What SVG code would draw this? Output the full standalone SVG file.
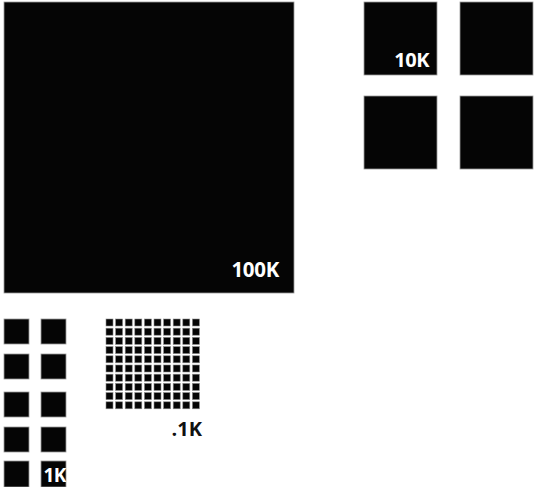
<svg xmlns="http://www.w3.org/2000/svg" width="534" height="487" viewBox="0 0 534 487">
  <style>
    .blk { fill: #050505; stroke: #9a9a9a; stroke-width: 0.8; }
    .cell { fill: #050505; stroke: #8a8a8a; stroke-width: 0.6; }
    .lbl { font-family: "Open Sans", "Liberation Sans", sans-serif; font-weight: bold; fill: #ffffff; }
    .lbl-dark { font-family: "Open Sans", "Liberation Sans", sans-serif; font-weight: bold; fill: #111111; }
  </style>
  <defs>
    <g id="row10">
      <rect class="cell" x="0" y="0" width="7" height="7"/>
      <rect class="cell" x="9.6" y="0" width="7" height="7"/>
      <rect class="cell" x="19.2" y="0" width="7" height="7"/>
      <rect class="cell" x="28.8" y="0" width="7" height="7"/>
      <rect class="cell" x="38.4" y="0" width="7" height="7"/>
      <rect class="cell" x="48" y="0" width="7" height="7"/>
      <rect class="cell" x="57.6" y="0" width="7" height="7"/>
      <rect class="cell" x="67.2" y="0" width="7" height="7"/>
      <rect class="cell" x="76.8" y="0" width="7" height="7"/>
      <rect class="cell" x="86.4" y="0" width="7" height="7"/>
    </g>
  </defs>

  <g id="block-100k">
    <rect class="blk" x="4" y="2" width="290" height="291"/>
    <text class="lbl" x="279" y="277" font-size="20.5" text-anchor="end" letter-spacing="-0.3">100K</text>
  </g>

  <g id="blocks-10k">
    <rect class="blk" x="364" y="2" width="73" height="73"/>
    <rect class="blk" x="460" y="2" width="73" height="73"/>
    <rect class="blk" x="364" y="96" width="73" height="73"/>
    <rect class="blk" x="460" y="96" width="73" height="73"/>
    <text class="lbl" x="429" y="67" font-size="20" text-anchor="end" letter-spacing="-0.5">10K</text>
  </g>

  <g id="blocks-1k">
    <rect class="blk" x="4" y="319" width="25" height="25"/>
    <rect class="blk" x="41" y="319" width="25" height="25"/>
    <rect class="blk" x="4" y="354" width="25" height="25"/>
    <rect class="blk" x="41" y="354" width="25" height="25"/>
    <rect class="blk" x="4" y="392" width="25" height="25"/>
    <rect class="blk" x="41" y="392" width="25" height="25"/>
    <rect class="blk" x="4" y="427" width="25" height="25"/>
    <rect class="blk" x="41" y="427" width="25" height="25"/>
    <rect class="blk" x="4" y="461" width="25" height="26"/>
    <rect class="blk" x="41" y="461" width="25" height="26"/>
    <text class="lbl" x="65.5" y="482" font-size="19" text-anchor="end" letter-spacing="-0.8">1K</text>
  </g>

  <g id="grid-01k">
    <use href="#row10" x="106" y="319"/>
    <use href="#row10" x="106" y="328.2"/>
    <use href="#row10" x="106" y="337.4"/>
    <use href="#row10" x="106" y="346.6"/>
    <use href="#row10" x="106" y="355.8"/>
    <use href="#row10" x="106" y="365"/>
    <use href="#row10" x="106" y="374.2"/>
    <use href="#row10" x="106" y="383.4"/>
    <use href="#row10" x="106" y="392.6"/>
    <use href="#row10" x="106" y="401.8"/>
    <text class="lbl-dark" x="202" y="436" font-size="20" text-anchor="end">.1K</text>
  </g>
</svg>
